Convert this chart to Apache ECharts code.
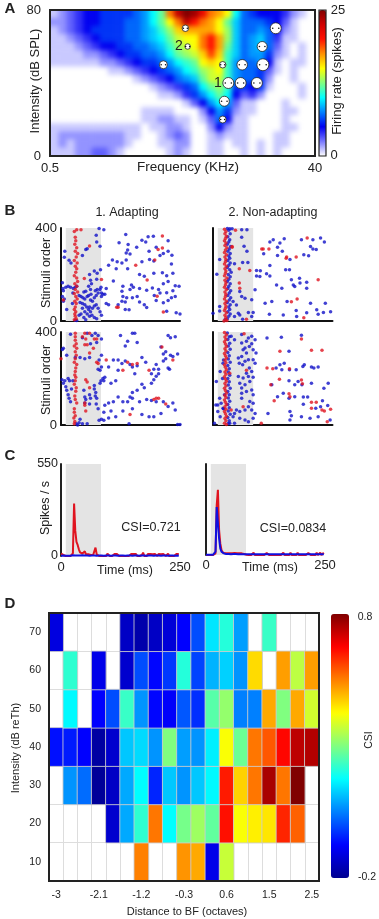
<!DOCTYPE html>
<html><head><meta charset="utf-8">
<script src="https://cdn.jsdelivr.net/npm/echarts@6/dist/echarts.min.js"></script>
<style>
html,body{margin:0;padding:0;background:#fff;width:379px;height:919px;overflow:hidden}
#main{position:absolute;left:0;top:0;width:379px;height:919px;z-index:2}
#heatClip{position:absolute;left:50px;top:10px;width:265px;height:146px;overflow:hidden;z-index:1}
#heat{position:absolute;left:-8px;top:-8px;width:281px;height:162px;filter:blur(2.5px)}
</style></head><body>
<div id="heatClip"><div id="heat"></div></div>
<div id="main"></div>
<script>
// ---------- Panel A : tuning map (firing rate, spikes), top row = 80 dB, left col = 0.5 kHz
const tune00=[1,2,3,4,5, 5,6,6,6,6, 7,8,10,12,18, 23,25,24,21,18, 17,15,10,7,6, 5,5,5,4,2, 1,0];
const tune01=[2,2,3,4,5, 5,6,6,6,7, 7,8,10,12,15, 18,23,20,18,17, 15,12,9,7,7, 7,6,5,3,1, 0,0];
const tune02=[1,2,3,4,5, 6,6,6,6,7, 7,8,9,11,13, 16,17,17,17,17, 15,13,9,7,7, 8,7,5,2,1, 0,0];
const tune03=[1,1,2,3,4, 5,6,6,6,7, 7,8,9,10,12, 14,15,15,18,20, 17,13,9,7,8, 9,7,4,1,1, 0,0];
const tune04=[1,1,1,2,3, 4,5,5,6,6, 7,7,8,9,11, 13,14,15,18,20, 17,12,9,7,8, 9,7,3,1,0, 1,0];
const tune05=[1,1,1,1,2, 2,3,4,5,6, 6,7,7,8,10, 12,13,14,16,19, 16,11,9,7,8, 8,6,2,1,0, 1,0];
const tune06=[1,1,1,1,1, 1,2,2,3,4, 5,6,6,7,8, 10,11,12,15,16, 15,11,8,7,7, 8,5,1,0,1, 1,0];
const tune07=[0,0,0,0,0, 0,0,1,1,2, 3,4,5,6,7, 8,10,11,13,14, 15,11,8,7,7, 6,3,1,0,1, 0,0];
const tune08=[0,0,0,0,0, 0,0,0,0,0, 1,2,3,4,5, 7,8,9,12,14, 14,11,8,7,7, 6,2,0,0,1, 0,0];
const tune09=[0,0,0,0,0, 0,0,0,0,0, 0,0,1,2,3, 4,6,7,10,12, 13,11,6,6,5, 6,1,0,0,0, 1,0];
const tune10=[0,0,0,0,0, 0,0,0,0,0, 0,0,0,1,1, 2,4,6,8,10, 12,10,5,3,4, 2,0,0,0,0, 1,0];
const tune11=[0,0,0,0,0, 0,0,0,0,0, 0,0,0,0,0, 0,1,3,5,8, 10,8,3,1,1, 0,0,0,1,0, 0,0];
const tune12=[0,0,0,0,0, 0,0,0,0,0, 0,1,1,1,1, 0,0,0,2,5, 8,6,2,1,1, 0,0,0,1,1, 0,0];
const tune13=[0,0,0,0,0, 0,0,0,0,0, 0,1,1,2,2, 1,1,0,1,3, 7,5,1,1,0, 0,0,0,1,0, 0,0];
const tune14=[1,1,1,1,1, 1,1,1,1,1, 1,0,1,1,2, 2,1,0,0,2, 5,2,1,1,0, 0,0,0,1,1, 0,0];
const tune15=[1,2,2,2,2, 2,2,2,2,1, 1,0,0,1,2, 3,2,0,0,1, 2,1,1,1,0, 0,0,1,1,0, 0,0];
const tune16=[1,2,1,2,2, 2,2,2,2,1, 0,0,0,1,1, 2,2,0,0,1, 1,0,1,1,0, 1,0,1,1,0, 0,0];
const tune17=[1,1,1,2,2, 3,3,2,1,0, 0,0,0,0,1, 2,1,0,0,1, 1,0,0,1,0, 1,0,1,0,0, 0,0];
const tuneRows=[tune00,tune01,tune02,tune03,tune04,tune05,tune06,tune07,tune08,tune09,tune10,tune11,tune12,tune13,tune14,tune15,tune16,tune17];
const tuneColors=['#ffffff','#7878ff','#0000f0','#0080ff','#00ffff','#80ff80','#ffff00','#ff9000','#ff1000','#d00000','#800000'];
const markerFreq=[3.26,4.69,4.87,8.69,8.93,8.69,9.54,11.7,12.0,15.3,16.7,16.9,20.9];
const markerLevel=[50,70,60,50,30,20,40,40,50,40,60,50,70];
const markerCount=[16,13,11,13,20,14,22,22,21,22,20,24,22];

// ---------- Panel B : rasters [time ms, stimulus order]
const rasterAB=[[80,398],[90,393],[74,369],[136,372],[194,365],[183,362],[178,340],[225,345],[122,337],[141,329],[170,347],[75,340],[52,307],[55,311],[82,321],[8,300],[7,274],[17,261],[21,249],[45,282],[159,317],[200,317],[137,292],[145,288],[140,305],[185,300],[215,290],[225,300],[233,283],[208,282],[186,265],[195,258],[170,255],[137,262],[118,255],[108,262],[100,240],[116,225],[140,225],[128,250],[165,200],[175,193],[213,207],[232,245],[235,205],[222,195],[195,205],[83,220],[76,205],[70,215],[75,180],[60,200],[62,175],[64,160],[58,150],[62,135],[110,172],[130,150],[148,155],[165,140],[180,132],[192,142],[205,135],[215,160],[225,170],[240,152],[248,150],[235,130],[222,122],[240,105],[232,100],[225,88],[215,78],[196,110],[208,120],[152,145],[145,135],[128,128],[130,105],[138,100],[128,85],[135,82],[120,70],[150,100],[160,105],[175,70],[180,58],[165,82],[200,88],[222,42],[242,35],[250,30],[135,50],[143,48],[95,75],[100,70],[85,120],[95,140],[92,115],[4,140],[5,130],[3,105],[5,85],[7,95],[10,145],[15,150],[20,145],[24,75],[12,50],[3,165],[26,140],[30,145],[33,150],[25,120],[38,110],[42,105],[46,100],[50,95],[55,105],[58,110],[62,90],[66,85],[70,100],[74,110],[78,120],[82,135],[85,105],[40,80],[45,75],[50,70],[54,60],[58,50],[62,40],[66,55],[70,65],[74,70],[78,55],[82,40],[85,25],[45,55],[50,40],[55,30],[60,20],[65,25],[70,15],[75,10],[42,30],[38,25],[48,15],[52,5],[30,3],[33,2],[60,60],[63,115],[72,130],[76,135],[52,128],[48,125],[84,145],[88,115]];
const rasterAR=[[33,393],[42,393],[28,385],[30,360],[31,345],[29,330],[33,315],[30,300],[35,290],[32,275],[28,260],[34,250],[30,235],[33,225],[31,210],[28,195],[33,185],[35,170],[29,160],[33,150],[30,135],[35,125],[28,118],[31,105],[34,95],[29,85],[32,75],[30,60],[28,50],[31,40],[29,30],[30,20],[32,10],[28,5],[60,323],[85,179],[49,183],[5,90],[157,240],[213,366],[204,307],[213,314],[197,262],[181,176],[202,106],[215,39],[120,59],[117,59]];
const rasterBB=[[5,330],[3,325],[12,300],[45,375],[20,390],[55,395],[65,385],[72,395],[78,385],[85,370],[75,355],[62,350],[85,300],[80,280],[60,290],[50,285],[40,290],[30,290],[78,240],[85,250],[82,235],[92,205],[90,190],[88,200],[84,190],[82,180],[70,170],[70,155],[73,140],[72,125],[75,115],[74,90],[78,70],[85,25],[80,20],[90,55],[92,85],[2,195],[5,180],[8,190],[15,200],[10,165],[12,150],[15,130],[17,115],[20,100],[22,155],[25,190],[18,190],[50,120],[52,110],[50,95],[48,150],[60,130],[62,115],[60,90],[40,25],[38,10],[32,5],[35,0],[45,5],[55,5],[125,385],[140,360],[155,395],[160,355],[150,395],[135,340],[120,280],[135,275],[145,260],[110,280],[100,250],[105,180],[115,190],[120,235],[128,265],[150,250],[160,255],[170,290],[178,270],[190,220],[195,240],[200,260],[210,335],[230,375],[225,385],[240,380],[220,315],[215,305],[230,300],[235,295],[245,305],[205,240],[215,275],[220,285],[225,245],[228,240],[205,220],[200,210],[195,195],[190,180],[170,175],[175,160],[160,150],[150,140],[145,120],[120,120],[130,100],[140,100],[150,115],[165,100],[180,110],[190,105],[200,100],[215,100],[225,80],[235,95],[240,65],[210,50],[195,35],[185,35],[170,45],[150,70],[130,60],[115,35],[100,30],[90,20],[250,2],[245,2],[143,5],[155,220],[100,95],[110,100],[105,60]];
const rasterBR=[[30,395],[30,380],[30,365],[32,350],[28,340],[33,330],[30,315],[32,300],[30,285],[28,270],[33,260],[31,245],[30,230],[29,215],[31,205],[30,190],[28,175],[32,160],[31,145],[29,125],[30,110],[33,95],[28,70],[28,55],[30,40],[27,30],[29,15],[28,5],[50,395],[45,380],[52,370],[60,395],[70,370],[75,370],[50,345],[55,345],[68,330],[60,310],[52,195],[55,185],[78,265],[50,95],[50,85],[52,60],[75,270],[95,280],[140,270],[130,235],[150,260],[160,265],[185,235],[200,115],[205,115],[195,110],[220,90],[212,335],[235,280],[0,285],[60,160],[145,45]];
const rasterCB=[[30,398],[35,397],[40,397],[33,390],[36,375],[31,362],[35,350],[33,340],[30,330],[37,320],[34,310],[31,300],[36,290],[33,280],[35,270],[31,260],[36,250],[33,240],[30,230],[35,220],[38,210],[32,200],[36,190],[33,180],[30,170],[36,160],[33,150],[31,140],[37,130],[34,120],[31,110],[37,100],[34,90],[30,80],[36,70],[33,60],[35,50],[31,40],[36,30],[33,20],[30,10],[25,5],[60,393],[71,393],[60,360],[65,321],[71,300],[14,264],[45,246],[62,252],[73,252],[8,201],[91,217],[99,216],[91,194],[98,191],[112,203],[119,194],[119,239],[152,220],[160,220],[133,155],[144,141],[164,177],[168,155],[171,148],[181,184],[182,163],[196,167],[196,141],[88,134],[56,127],[60,105],[67,98],[81,91],[109,76],[123,84],[155,84],[204,76],[235,76],[174,45],[196,36],[217,48],[220,29],[231,37],[246,40],[118,29],[147,26],[175,19],[14,62],[14,43],[0,33],[42,84],[49,69],[45,19],[56,26],[53,33],[74,37],[84,37],[81,19],[62,7],[126,350],[140,335],[149,354],[119,340],[135,317],[145,300],[135,282],[106,289],[185,350],[209,350],[225,357],[233,340],[204,320],[209,310],[216,307],[190,285],[200,281],[161,264]];
const rasterCR=[[24,395],[27,385],[25,375],[28,365],[26,355],[24,345],[27,335],[25,325],[29,315],[26,305],[24,295],[28,285],[25,275],[27,265],[26,255],[24,245],[28,235],[25,225],[27,215],[26,205],[24,195],[29,185],[25,175],[27,165],[26,155],[24,145],[28,135],[25,125],[27,115],[26,105],[24,95],[28,85],[25,75],[27,65],[26,55],[24,45],[28,35],[25,25],[27,15],[26,5],[23,0],[29,2],[47,390],[40,320],[102,310],[105,310],[117,310],[154,275],[153,270],[174,275],[55,225],[77,217],[55,163],[56,141],[220,177],[176,95],[164,83],[190,14],[70,7],[197,357],[40,317]];
const rasterDB=[[38,382],[45,367],[60,389],[74,374],[81,382],[70,360],[60,353],[81,350],[67,331],[84,324],[76,338],[63,324],[70,310],[88,367],[90,310],[53,288],[60,295],[55,266],[62,259],[74,281],[84,281],[88,266],[67,274],[76,245],[81,230],[70,223],[53,209],[63,202],[74,209],[84,205],[56,180],[67,173],[77,187],[60,159],[60,137],[70,144],[81,151],[84,130],[60,115],[77,101],[84,94],[74,79],[67,65],[56,58],[45,50],[49,65],[81,65],[88,50],[42,36],[56,29],[67,22],[74,14],[45,7],[35,7],[7,187],[15,230],[21,266],[10,86],[6,86],[14,115],[17,94],[21,72],[10,58],[15,36],[3,7],[113,374],[143,377],[185,386],[159,317],[140,259],[149,266],[132,245],[144,238],[160,238],[174,238],[191,259],[188,252],[206,249],[211,245],[220,249],[123,173],[159,190],[171,173],[178,187],[186,173],[206,180],[232,158],[241,180],[135,122],[147,137],[159,115],[171,122],[189,120],[198,120],[229,104],[189,89],[215,72],[225,79],[240,84],[161,58],[164,40],[115,50],[185,36],[203,29],[220,36],[245,22],[161,22],[84,29],[30,396],[34,380],[31,368],[35,352],[32,340],[36,326],[31,312],[34,298],[32,284],[36,270],[31,256],[34,242],[32,228],[35,214],[31,200],[34,186],[32,172],[36,158],[31,144],[34,130],[32,116],[35,102],[31,88],[34,74],[32,60],[36,46],[31,32],[34,18],[32,6],[22,280],[20,200],[24,130],[22,70]];
const rasterDR=[[24,398],[28,388],[25,378],[27,368],[24,358],[26,348],[28,338],[25,328],[27,318],[24,308],[26,298],[28,288],[25,278],[27,268],[24,258],[26,248],[28,238],[25,228],[27,218],[24,208],[26,198],[28,188],[25,178],[27,168],[24,158],[26,148],[28,138],[25,128],[27,118],[24,108],[26,98],[28,88],[25,78],[27,68],[24,58],[26,48],[28,38],[25,28],[27,18],[24,8],[28,2],[65,392],[185,370],[140,317],[206,321],[228,321],[113,245],[125,242],[160,242],[139,197],[121,173],[185,194],[187,177],[159,134],[161,122],[128,104],[206,98],[216,98],[228,65],[206,72],[246,68],[233,60],[101,7],[239,14],[63,79],[35,223],[70,235],[38,65]];
const stimWindow=[10,84];

// ---------- Panel C : PSTH (spikes/s) in 2.5 ms bins
const psthAR=[14,12,6,0,0,0,0,0,0,0, 16,314,150,84,66,40,22,30,14,14, 28,10,14,10,14,6,0,6,0,50, 10,6,0,0,0,0,0,0,0,14, 4,0,0,0,0,12,12,12,10,0, 0,0,0,0,0,0,0,0,0,12, 8,12,10,12,0,0,0,0,6,20, 0,0,0,12,10,12,12,10,12,12, 10,0,12,12,10,12,12,10,0,0, 14,0,0,0,0,0,0,12,10,12];
const psthAB=[2,2,3,3,2,3,2,3,2,3, 4,4,3,4,3,4,3,3,4,3, 3,4,3,3,2,3,3,2,3,3, 2,3,3,2,3,3,2,3,3,2, 3,3,2,3,3,2,3,3,2,3, 3,2,3,3,2,3,3,2,3,3, 2,3,3,2,3,3,2,3,3,2, 3,3,2,3,3,2,3,3,2,3, 3,2,3,3,2,3,3,2,3,3, 2,3,3,2,3,3,2,3,3,2];
const psthBR=[0,0,0,0,0,0,0,0,10,300, 394,150,70,30,16,14,10,8,10,12, 10,12,10,14,12,16,10,12,10,14, 10,8,6,4,2,0,0,0,0,0, 14,0,0,0,0,0,0,0,0,0, 0,12,0,0,0,0,0,0,0,0, 0,0,0,0,0,14,0,0,0,0, 0,14,0,0,0,0,0,14,0,0, 0,0,0,0,0,0,12,10,0,12, 0,12,0,14,0,0,14,0,12,14];
const psthBB=[2,2,2,2,2,2,2,2,20,290, 290,100,40,20,14,10,8,6,6,6, 5,5,6,6,5,6,5,5,4,5, 4,4,4,4,4,4,4,4,4,4, 4,4,4,4,4,4,4,4,4,4, 4,4,4,4,4,4,4,4,4,4, 4,4,4,4,4,4,4,4,4,4, 4,4,4,4,4,4,4,4,4,4, 4,4,4,4,4,4,4,4,4,4, 4,4,4,4,4,4,4,4,4,4];

// ---------- Panel D : CSI by intensity and distance to BF
const octaves=['-3','-2.7','-2.4','-2.1','-1.8','-1.5','-1.2','-0.9','-0.6','-0.3','0','0.3','0.6','0.9','1.2','1.5','1.8','2.1','2.5'];
const levels=['10','20','30','40','50','60','70'];
const csi70=[-.11,null,null,null,null,-.14,-.17,-.14,-.12,-.075,0,.15,.21,.08,null,.23,null,null,null];
const csi60=[null,.22,null,-.1,null,-.13,0,-.07,-.02,.21,-.01,.1,.13,.07,.46,null,.52,.36,.52];
const csi50=[null,.17,null,-.075,0,.23,.07,-.07,-.08,.01,-.03,.26,.32,.05,.05,.51,.3,.51,.38];
const csi40=[-.06,-.05,-.075,-.18,-.13,.12,.14,.07,.3,.08,.07,.16,.42,.28,.56,.59,.67,.74,.75];
const csi30=[null,.07,.03,-.19,-.14,.09,.175,-.04,.12,.07,.12,.17,.65,.47,.56,.76,.56,.8,null];
const csi20=[null,null,null,null,-.13,.09,.22,.56,.175,.29,.33,.27,.66,.42,.44,.45,.64,.58,null];
const csi10=[null,null,null,null,null,null,.55,null,null,.53,.51,-.1,.37,null,null,null,null,null,null];
const csiRows=[csi10,csi20,csi30,csi40,csi50,csi60,csi70];
const jetColors=['#000090','#0000ff','#0080ff','#00ffff','#80ff80','#ffff00','#ff8000','#ff0000','#800000'];

const FONT='"Liberation Sans",Arial,sans-serif', INK='#222';

// ---- blurred tuning-map layer (one extra cell on each edge so the blur does not fade at the frame)
(function(){
  const padded=[tuneRows[0],...tuneRows,tuneRows[17]].map(r=>[r[0],...r,r[31]]);
  const cells=[];
  padded.forEach((r,i)=>r.forEach((v,j)=>cells.push([j,i,v])));
  const h=echarts.init(document.getElementById('heat'),null,{renderer:'canvas'});
  h.setOption({animation:false,
    grid:{left:0,right:0,top:0,bottom:0},
    xAxis:{type:'category',data:padded[0].map((_,j)=>j),show:false},
    yAxis:{type:'category',data:padded.map((_,i)=>i),inverse:true,show:false},
    visualMap:{show:false,min:0,max:25,inRange:{color:tuneColors},calculable:false},
    series:[{type:'heatmap',data:cells,progressive:0,itemStyle:{borderWidth:0}}]});
})();

// ---- main layer
const grids=[
  {left:50,top:10,width:265,height:146},   // A
  {left:61,top:228,width:119,height:93},   // B
  {left:61,top:332,width:119,height:93},
  {left:213,top:228,width:119.5,height:93},
  {left:213,top:332,width:119.5,height:93},
  {left:61,top:464,width:119,height:92},   // C
  {left:206,top:464,width:119,height:91},
  {left:49,top:613,width:270,height:268}   // D
];
const lab=(s,extra)=>Object.assign({fontFamily:FONT,color:INK,fontSize:s},extra||{});
const blackLine={show:true,onZero:false,lineStyle:{color:'#111',width:2}};
function rasterAxes(i,yLabels){
  return {
    x:{type:'value',gridIndex:i,min:0,max:250,splitLine:{show:false},axisTick:{show:false},axisLabel:{show:false},axisLine:blackLine},
    y:{type:'value',gridIndex:i,min:0,max:400,splitLine:{show:false},axisTick:{show:false},axisLine:blackLine,
       axisLabel:yLabels?lab(13,{customValues:[0,400],margin:4}):{show:false}}
  };
}
const rA=[1,2,3,4].map(i=>rasterAxes(i,i<3));
const xAxes=[
  {type:'log',gridIndex:0,min:0.5,max:40,logBase:2,splitLine:{show:false},axisTick:{show:false},axisLine:{show:false},
   axisLabel:lab(13,{customValues:[0.5,40],margin:6,formatter:v=>String(+(+v).toFixed(1))})},
  ...rA.map(a=>a.x),
  {type:'value',gridIndex:5,min:0,max:250,splitLine:{show:false},axisTick:{show:false},axisLine:{show:false},
   axisLabel:lab(13,{customValues:[0,250],margin:5})},
  {type:'value',gridIndex:6,min:0,max:250,splitLine:{show:false},axisTick:{show:false},axisLine:{show:false},
   axisLabel:lab(13,{customValues:[0,250],margin:4})},
  {type:'category',gridIndex:7,data:octaves,axisTick:{show:false},axisLine:{show:false},
   splitLine:{show:true,interval:0,lineStyle:{color:'#ddd',width:1}},
   axisLabel:lab(10.5,{interval:2,margin:9})}
];
const yAxes=[
  {type:'value',gridIndex:0,min:0,max:80,splitLine:{show:false},axisTick:{show:false},axisLine:{show:false},
   axisLabel:lab(13,{customValues:[0,80],margin:9})},
  ...rA.map(a=>a.y),
  {type:'value',gridIndex:5,min:0,max:550,splitLine:{show:false},axisTick:{show:false},axisLine:{show:true,onZero:false,lineStyle:{color:'#222',width:2}},
   axisLabel:lab(12.5,{customValues:[0,550],margin:3})},
  {type:'value',gridIndex:6,min:0,max:550,splitLine:{show:false},axisTick:{show:false},axisLine:{show:true,onZero:false,lineStyle:{color:'#222',width:2}},
   axisLabel:{show:false}},
  {type:'category',gridIndex:7,data:levels,axisTick:{show:false},axisLine:{show:false},
   splitLine:{show:true,interval:0,lineStyle:{color:'#ddd',width:1}},
   axisLabel:lab(10.5,{interval:0,margin:8})}
];
const BLUE='#1212c8', RED='#e01420';
const grey={silent:true,z:1,itemStyle:{color:'#e4e4e4'},label:{show:false},data:[[{xAxis:stimWindow[0]},{xAxis:stimWindow[1]}]]};
function rasterSeries(i,b,r){
  return [
    {type:'scatter',xAxisIndex:i,yAxisIndex:i,data:b,symbolSize:3.5,z:3,itemStyle:{color:BLUE},markArea:grey,silent:true},
    {type:'scatter',xAxisIndex:i,yAxisIndex:i,data:r,symbolSize:3.5,z:4,itemStyle:{color:RED},silent:true}
  ];
}
const bins=psthAR.map((_,i)=>i*2.5);
function psth(i,vals,color,w,z,mark){
  const s={type:'line',xAxisIndex:i,yAxisIndex:i,data:vals.map((v,k)=>[bins[k],v]),showSymbol:false,z:z,
    lineStyle:{color:color,width:w},itemStyle:{color:color},silent:true};
  if(mark) s.markArea=grey;
  return s;
}
const csiCells=[];
csiRows.forEach((r,i)=>r.forEach((v,j)=>{ if(v!==null) csiCells.push([j,i,v]); }));
const markers=markerFreq.map((f,i)=>[f,markerLevel[i],markerCount[i]]);
const series=[
  {type:'custom',xAxisIndex:0,yAxisIndex:0,coordinateSystem:'cartesian2d',data:markers,silent:true,z:5,clip:false,
   encode:{x:0,y:1},
   renderItem:(p,api)=>{
     const c=api.coord([api.value(0),api.value(1)]), r=api.value(2)/4, d=Math.max(2,r*0.55);
     return {type:'group',children:[
       {type:'circle',shape:{cx:c[0],cy:c[1],r:r},style:{fill:'#fff',stroke:'#222',lineWidth:.8}},
       {type:'circle',shape:{cx:c[0]-d,cy:c[1],r:.8},style:{fill:'#111'}},
       {type:'circle',shape:{cx:c[0]+d,cy:c[1],r:.8},style:{fill:'#111'}}
     ]};
   }},
  ...rasterSeries(1,rasterAB,rasterAR),
  ...rasterSeries(2,rasterBB,rasterBR),
  ...rasterSeries(3,rasterCB,rasterCR),
  ...rasterSeries(4,rasterDB,rasterDR),
  psth(5,psthAR,RED,2,3,true),
  psth(5,psthAB,'#1010e0',2,4),
  psth(6,psthBR,RED,2,3,true),
  psth(6,psthBB,'#1010e0',2,4),
  {type:'heatmap',xAxisIndex:7,yAxisIndex:7,data:csiCells,progressive:0,silent:true,
   itemStyle:{borderColor:'rgba(205,205,205,.85)',borderWidth:1}}
];
const hmIndex=series.length-1;
function t(x,y,s,size,o){
  return {type:'text',x:x,y:y,rotation:(o&&o.rot)?Math.PI/2:0,silent:true,z:50,
    style:{text:s,fontFamily:FONT,fontSize:size,fontWeight:(o&&o.bold)?'bold':'normal',fill:INK,
      textAlign:(o&&o.align)||'center',textVerticalAlign:'middle'}};
}
const graphic=[
  t(10,9,'A',15,{bold:1}),t(10,211,'B',15,{bold:1}),t(10,456,'C',15,{bold:1}),t(10,604,'D',15,{bold:1}),
  t(35,81,'Intensity (dB SPL)',13,{rot:1}),
  t(188,167,'Frequency (KHz)',13.5),
  t(337,81,'Firing rate (spikes)',13,{rot:1}),
  t(338,10,'25',13),t(334,155,'0',13),
  t(218,83,'1',14),t(179,46,'2',14),
  t(127,213,'1. Adapting',12.5),t(273,213,'2. Non-adapting',12.5),
  t(47,273,'Stimuli order',12.5,{rot:1}),t(47,380,'Stimuli order',12.5,{rot:1}),
  t(46,508,'Spikes / s',12.5,{rot:1}),
  t(125,571,'Time (ms)',12.5),t(270,568,'Time (ms)',12.5),
  t(151,528,'CSI=0.721',12.5),t(293,529,'CSI=0.0834',12.5),
  t(16,748,'Intensity (dB reTh)',11,{rot:1}),
  t(187,912,'Distance to BF (octaves)',11),
  t(365,617,'0.8',10.5),t(367,877,'-0.2',10.5),t(369,740,'CSI',10.5,{rot:1}),
  {type:'rect',silent:true,z:60,shape:{x:50,y:10,width:265,height:146},style:{fill:'none',stroke:'#222',lineWidth:2}},
  {type:'rect',silent:true,z:60,shape:{x:319,y:10,width:7,height:146},style:{fill:'none',stroke:'#222',lineWidth:1.2}},
  {type:'rect',silent:true,z:60,shape:{x:49,y:613,width:270,height:268},style:{fill:'none',stroke:'#222',lineWidth:2}}
];
const chart=echarts.init(document.getElementById('main'),null,{renderer:'canvas'});
chart.setOption({animation:false,backgroundColor:'transparent',textStyle:{fontFamily:FONT},
  grid:grids,xAxis:xAxes,yAxis:yAxes,series:series,graphic:graphic,
  visualMap:[
    {type:'continuous',seriesIndex:0,dimension:2,min:0,max:25,left:319,top:10,itemWidth:7,itemHeight:146,padding:0,
     calculable:false,showLabel:false,text:null,inRange:{color:tuneColors}},
    {type:'continuous',seriesIndex:hmIndex,dimension:2,min:-0.2,max:0.8,left:331,top:614,itemWidth:18,itemHeight:264,padding:0,
     calculable:false,text:null,inRange:{color:jetColors}}
  ]});
</script>
</body></html>
